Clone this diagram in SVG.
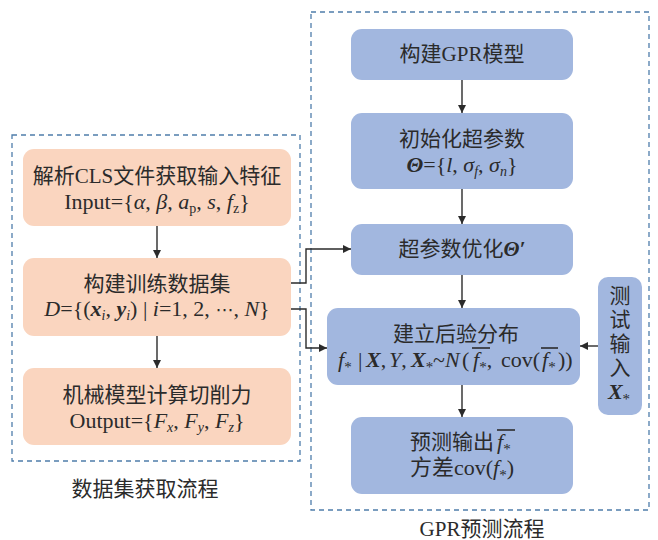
<svg xmlns="http://www.w3.org/2000/svg" width="658" height="540" viewBox="0 0 658 540">
<style>
text{font-family:"Liberation Serif","Noto Sans CJK SC",serif;font-size:21px;fill:#2b2b2b;text-anchor:middle}
text.m{font-size:22px}
text.s{text-anchor:start}
.frame{fill:none;stroke:#4f7dab;stroke-width:1.3;stroke-dasharray:5 4}
.orange{fill:#fad5bf}
.blue{fill:#a2b7df}
.edge{fill:none;stroke:#2b2b2b;stroke-width:1.4}
.ov{stroke:#2b2b2b;stroke-width:1.6}
.i{font-style:italic}
.bi{font-style:italic;font-weight:bold}
.sub{font-size:14px}
.ast{font-size:15px}
.dots{font-family:"DejaVu Sans",sans-serif;font-size:18px}
</style>
<defs>
<marker id="ah" viewBox="0 0 10 10" refX="10" refY="5" markerWidth="8" markerHeight="8" markerUnits="userSpaceOnUse" orient="auto">
<path d="M0,0 L10,5 L0,10 Z" fill="#2b2b2b"/>
</marker>
</defs>
<g id="frames">
<rect class="frame" x="12" y="135" width="288" height="326"/>
<rect class="frame" x="311" y="12" width="338" height="498"/>
<text x="145" y="496">数据集获取流程</text>
<text x="482" y="536">GPR预测流程</text>
</g>
<g id="n1"><rect class="orange" x="23" y="149" width="268" height="77" rx="11"/>
<text x="157" y="183">解析CLS文件获取输入特征</text>
<text class="m" x="157" y="209">Input={<tspan class="i">α</tspan>, <tspan class="i">β</tspan>, <tspan class="i">a</tspan><tspan class="sub" dy="4">p</tspan><tspan dy="-4">, </tspan><tspan class="i">s</tspan>, <tspan class="i">f</tspan><tspan class="sub" dy="4">z</tspan><tspan dy="-4">}</tspan></text></g>
<g id="n2"><rect class="orange" x="23" y="258" width="268" height="78" rx="11"/>
<text x="157" y="291">构建训练数据集</text>
<text class="m" x="157" y="316"><tspan class="i">D</tspan>={(<tspan class="bi">x</tspan><tspan class="sub i" dy="4">i</tspan><tspan dy="-4">, </tspan><tspan class="bi">y</tspan><tspan class="sub i" dy="4">i</tspan><tspan dy="-4">) | </tspan><tspan class="i">i</tspan>=1, 2, <tspan class="dots">⋯</tspan>, <tspan class="i">N</tspan>}</text></g>
<g id="n3"><rect class="orange" x="23" y="368" width="268" height="77" rx="11"/>
<text x="157" y="402">机械模型计算切削力</text>
<text class="m" x="157" y="428">Output={<tspan class="i">F</tspan><tspan class="sub i" dy="4">x</tspan><tspan dy="-4">, </tspan><tspan class="i">F</tspan><tspan class="sub i" dy="4">y</tspan><tspan dy="-4">, </tspan><tspan class="i">F</tspan><tspan class="sub i" dy="4">z</tspan><tspan dy="-4">}</tspan></text></g>
<g id="nA"><rect class="blue" x="351" y="29" width="222" height="51" rx="11"/>
<text x="462" y="61">构建GPR模型</text></g>
<g id="nB"><rect class="blue" x="351" y="113" width="222" height="76" rx="11"/>
<text x="462" y="146">初始化超参数</text>
<text class="m" x="462" y="172"><tspan class="bi">Θ</tspan>={<tspan class="i">l</tspan>, <tspan class="i">σ</tspan><tspan class="sub i" dy="4">f</tspan><tspan dy="-4">, </tspan><tspan class="i">σ</tspan><tspan class="sub i" dy="4">n</tspan><tspan dy="-4">}</tspan></text></g>
<g id="nC"><rect class="blue" x="351" y="224" width="222" height="51" rx="11"/>
<text x="462" y="256">超参数优化<tspan class="bi">Θ′</tspan></text></g>
<g id="nD"><rect class="blue" x="327" y="308" width="253" height="77" rx="11"/>
<text x="456" y="341">建立后验分布</text>
<text class="m s" y="367"><tspan class="i" x="338">f</tspan><tspan class="ast" dy="5">*</tspan><tspan x="358" dy="-5">|</tspan><tspan class="bi" x="366">X</tspan>,<tspan class="i" x="389">Y</tspan>,<tspan class="bi" x="411">X</tspan><tspan class="ast" dy="5">*</tspan><tspan x="433" dy="-5">~</tspan><tspan class="i" x="445">N</tspan><tspan x="462">(</tspan><tspan class="i" x="473">f</tspan><tspan class="ast" dy="5">*</tspan><tspan dy="-5">,</tspan><tspan x="501">cov(</tspan><tspan class="i" x="542">f</tspan><tspan class="ast" dy="5">*</tspan><tspan x="558" dy="-5">))</tspan></text>
<line class="ov" x1="472" y1="348" x2="490" y2="348"/>
<line class="ov" x1="541" y1="348" x2="558" y2="348"/></g>
<g id="nE"><rect class="blue" x="351" y="417" width="222" height="77" rx="11"/>
<text x="452" y="449">预测输出</text>
<text class="m s" y="449"><tspan class="i" x="497">f</tspan><tspan class="ast" dy="5">*</tspan></text>
<line class="ov" x1="497" y1="430" x2="515" y2="430"/>
<text class="m" x="462" y="475">方差cov(<tspan class="i">f</tspan><tspan class="ast" dy="5">*</tspan><tspan dy="-5">)</tspan></text></g>
<g id="nT"><rect class="blue" x="598" y="277" width="44" height="138" rx="10"/>
<text x="620" y="303">测</text>
<text x="620" y="327">试</text>
<text x="620" y="351">输</text>
<text x="620" y="375">入</text>
<text class="m" x="619" y="399"><tspan class="bi">X</tspan><tspan class="ast" dy="5">*</tspan></text></g>
<g id="connectors">
<path class="edge" d="M157,226 V258" marker-end="url(#ah)"/>
<path class="edge" d="M157,336 V368" marker-end="url(#ah)"/>
<path class="edge" d="M462,80 V113" marker-end="url(#ah)"/>
<path class="edge" d="M462,189 V224" marker-end="url(#ah)"/>
<path class="edge" d="M462,275 V308" marker-end="url(#ah)"/>
<path class="edge" d="M462,385 V417" marker-end="url(#ah)"/>
<path class="edge" d="M598,346 H580" marker-end="url(#ah)"/>
<path class="edge" d="M291,283 H306 V249 H351" marker-end="url(#ah)"/>
<path class="edge" d="M291,309 H306 V348 H327" marker-end="url(#ah)"/>
</g>
</svg>
